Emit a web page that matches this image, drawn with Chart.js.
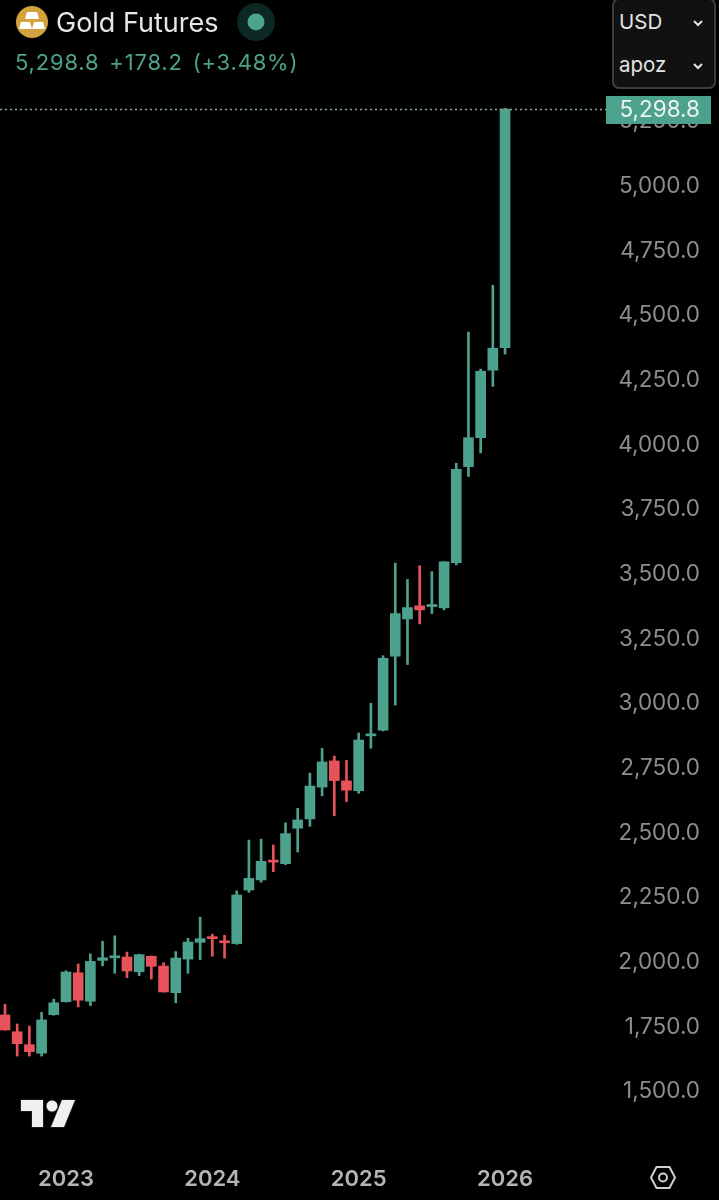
<!DOCTYPE html>
<html>
<head>
  <title>Gold Futures</title>
  <script src="https://cdn.jsdelivr.net/npm/chart.js"></script>
  <style>
    html, body { margin: 0; background: #000; }
    #wrap { position: relative; width: 719px; height: 1200px; overflow: hidden; font-family: Inter, Roboto, Arial; }
    canvas { position: absolute; left: 0; top: 0; }
    .abs { position: absolute; white-space: nowrap; }
    #title { left: 56px; top: 6px; font-size: 27px; line-height: 34px; color: #e6e6e6; }
    #quote { left: 15px; top: 48px; font-size: 22px; line-height: 28px; letter-spacing: 0.8px; color: #4ca28c; }
    #quote span { margin-left: 3px; }
    #picker { left: 612px; top: -2px; width: 100px; height: 87px; border: 2px solid #3c3c3c; border-radius: 7px; background: #111; }
    .opt { position: absolute; left: 5px; font-size: 20.5px; line-height: 26px; color: #e4e4e4; }
  </style>
</head>
<body>
  <div id="wrap">
    <canvas id="goldChart" width="719" height="1200"></canvas>

    <svg class="abs" style="left:0;top:0" width="290" height="46">
      <circle cx="32" cy="22" r="16" fill="#d3a23d"/>
      <polygon points="27,12 37,12 39,19 25,19" fill="#fff"/>
      <polygon points="21,22 30,22 32,29 19,29" fill="#fff"/>
      <polygon points="34,22 43,22 45,29 32,29" fill="#fff"/>
      <circle cx="256" cy="22" r="19" fill="#0d2722"/>
      <circle cx="256" cy="22" r="8.5" fill="#4ca28c"/>
    </svg>
    <div class="abs" id="title">Gold Futures</div>
    <div class="abs" id="quote">5,298.8 <span>+178.2</span> <span>(+3.48%)</span></div>

    <div class="abs" id="picker">
      <div class="opt" style="top:9px">USD</div>
      <div class="opt" style="top:52px">apoz</div>
      <svg class="abs" style="left:0;top:0" width="100" height="87">
        <polyline points="80,21 84,25 88,21" fill="none" stroke="#e4e4e4" stroke-width="2"/>
        <polyline points="80,64 84,68 88,64" fill="none" stroke="#e4e4e4" stroke-width="2"/>
      </svg>
    </div>

    <svg class="abs" style="left:0;top:1090px" width="90" height="46">
      <polygon points="21,10 43,10 43,37 32,37 32,21 21,21" fill="#f0f0f0" stroke="#1a1a1a" stroke-width="2" paint-order="stroke"/>
      <polygon points="62,10 75,10 64,37 51,37" fill="#f0f0f0" stroke="#1a1a1a" stroke-width="2" paint-order="stroke"/>
      <circle cx="52" cy="16" r="5.5" fill="#f0f0f0" stroke="#1a1a1a" stroke-width="2" paint-order="stroke"/>
    </svg>

    <svg class="abs" style="left:640px;top:1156px" width="46" height="44">
      <polygon points="16.5,11 29.5,11 35,21.5 29.5,32 16.5,32 11,21.5" fill="none" stroke="#cfcfcf" stroke-width="2"/>
      <circle cx="23" cy="21.5" r="4" fill="none" stroke="#cfcfcf" stroke-width="2"/>
    </svg>
  </div>

  <script>
    const months = ['2022-08','2022-09','2022-10','2022-11','2022-12','2023-01','2023-02','2023-03','2023-04','2023-05','2023-06','2023-07','2023-08','2023-09','2023-10','2023-11','2023-12','2024-01','2024-02','2024-03','2024-04','2024-05','2024-06','2024-07','2024-08','2024-09','2024-10','2024-11','2024-12','2025-01','2025-02','2025-03','2025-04','2025-05','2025-06','2025-07','2025-08','2025-09','2025-10','2025-11','2025-12','2026-01'];
    const opens  = [1796,1731,1681,1648,1797,1847,1959,1849,2007,2017,2020,1963,2023,1985,1882,2012,2077,2097,2082,2072,2279,2318,2392,2381,2518,2554,2677,2778,2701,2663,2875,2897,3183,3327,3378,3375,3370,3545,3916,4028,4289,4376];
    const highs  = [1837,1761,1753,1806,1857,1967,1993,2032,2081,2102,2039,2031,2024,1998,2041,2092,2174,2108,2104,2276,2472,2476,2453,2539,2595,2731,2827,2797,2780,2886,3001,3185,3543,3480,3533,3510,3549,3929,4436,4293,4617,5301];
    const lows   = [1737,1637,1637,1637,1795,1846,1827,1832,1986,1957,1940,1948,1935,1884,1843,1957,2010,2023,2016,2069,2270,2309,2350,2377,2426,2525,2643,2566,2621,2653,2827,2894,2994,3151,3308,3348,3362,3536,3878,3969,4226,4351];
    const closes = [1738,1685,1654,1777,1843,1962,1853,2003,2017,2023,1966,2029,1984,1885,2016,2078,2091,2091,2075,2260,2324,2390,2387,2497,2550,2681,2774,2702,2665,2859,2880,3175,3348,3371,3362,3380,3548,3906,4028,4285,4374,5298.8];

    const yTicks = [1500,1750,2000,2250,2500,2750,3000,3250,3500,3750,4000,4250,4500,4750,5000,5250];
    const yearTicks = [5,17,29,41];
    const yearLabels = ['2023','2024','2025','2026'];
    const lastPrice = 5298.8;

    const UP = '#4ca28c';
    const DOWN = '#e8525a';
    const candleColors = opens.map((o, i) => closes[i] >= o ? UP : DOWN);

    // price tag + dotted line sit on top of the axis labels
    const lastPriceTag = {
      id: 'lastPriceTag',
      afterDraw(chart) {
        const ctx = chart.ctx;
        const y = chart.scales.y.getPixelForValue(lastPrice);
        ctx.save();
        ctx.strokeStyle = '#86a89e';
        ctx.lineWidth = 1.5;
        ctx.setLineDash([2, 3]);
        ctx.beginPath();
        ctx.moveTo(0, y + 0.5);
        ctx.lineTo(606, y + 0.5);
        ctx.stroke();
        ctx.setLineDash([]);
        ctx.fillStyle = UP;
        ctx.fillRect(606, y - 13, 105, 28);
        ctx.fillStyle = '#eef5f3';
        ctx.font = '22.5px Inter, Roboto, Arial';
        ctx.textAlign = 'right';
        ctx.textBaseline = 'middle';
        ctx.fillText(lastPrice.toLocaleString('en-US', { minimumFractionDigits: 1 }), 700, y + 1);
        ctx.restore();
      }
    };

    // keep the pane edge-to-edge: no room reserved for half of the outer labels
    function noLabelMargins(axis) {
      axis.paddingTop = 0;
      axis.paddingBottom = 0;
      axis.paddingLeft = 0;
      axis.paddingRight = 0;
    }

    new Chart(document.getElementById('goldChart').getContext('2d'), {
      type: 'bar',
      data: {
        datasets: [
          {
            label: 'Wick',
            data: months.map((m, i) => ({ x: i, y: [lows[i], highs[i]] })),
            backgroundColor: candleColors,
            barThickness: 2,
            grouped: false
          },
          {
            label: 'Body',
            data: months.map((m, i) => ({ x: i, y: [opens[i], closes[i]] })),
            backgroundColor: candleColors,
            barThickness: 10,
            minBarLength: 2,
            grouped: false
          }
        ]
      },
      options: {
        responsive: false,
        animation: false,
        layout: { padding: { right: 19 } },
        plugins: { legend: { display: false }, tooltip: { enabled: false } },
        scales: {
          x: {
            type: 'linear',
            position: 'bottom',
            offset: false,
            min: -0.41,
            max: 49.36,
            grid: { display: false },
            border: { display: false },
            afterBuildTicks: axis => { axis.ticks = yearTicks.map(v => ({ value: v })); },
            afterFit: axis => { axis.height = 45; noLabelMargins(axis); },
            ticks: {
              autoSkip: false,
              maxRotation: 0,
              padding: 3,
              color: '#b5b5b5',
              font: { family: 'Inter, Roboto, Arial', size: 22, weight: '600' },
              callback: (v, i) => yearLabels[i]
            }
          },
          y: {
            position: 'right',
            min: 1254.5,
            max: 5720.2,
            grid: { display: false },
            border: { display: false },
            afterBuildTicks: axis => { axis.ticks = yTicks.map(v => ({ value: v })); },
            afterFit: axis => { axis.width = 93; noLabelMargins(axis); },
            ticks: {
              autoSkip: false,
              crossAlign: 'far',
              color: '#8e8e8e',
              font: { family: 'Inter, Roboto, Arial', size: 22.5 },
              callback: v => v.toLocaleString('en-US', { minimumFractionDigits: 1 })
            }
          }
        }
      },
      plugins: [lastPriceTag]
    });
  </script>
</body>
</html>
